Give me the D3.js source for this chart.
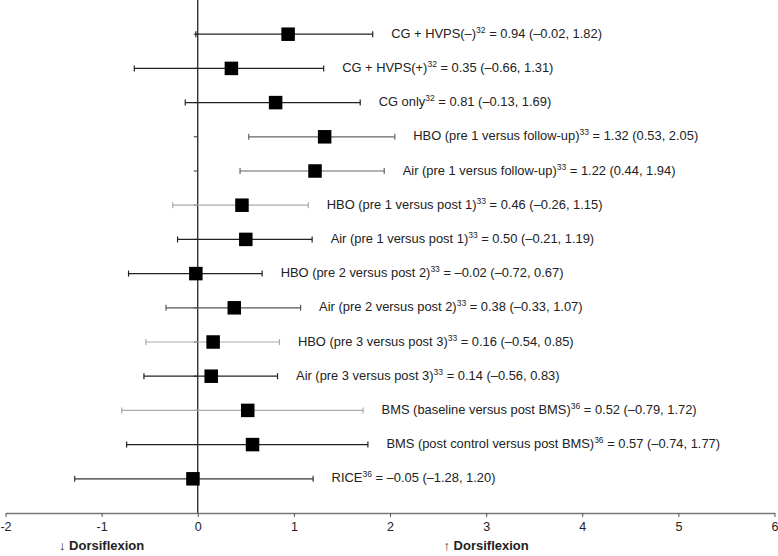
<!DOCTYPE html>
<html>
<head>
<meta charset="utf-8">
<script src="https://cdn.jsdelivr.net/npm/d3@7"></script>
<style>
  html, body { margin: 0; padding: 0; background: #fff; }
  svg { display: block; }
  text { font-family: "Liberation Sans", Arial, sans-serif; }
</style>
</head>
<body>
<div id="chart"></div>
<script>
// ---- data ----
const studies = [
  "CG + HVPS(–)",
  "CG + HVPS(+)",
  "CG only",
  "HBO (pre 1 versus follow-up)",
  "Air (pre 1 versus follow-up)",
  "HBO (pre 1 versus post 1)",
  "Air (pre 1 versus post 1)",
  "HBO (pre 2 versus post 2)",
  "Air (pre 2 versus post 2)",
  "HBO (pre 3 versus post 3)",
  "Air (pre 3 versus post 3)",
  "BMS (baseline versus post BMS)",
  "BMS (post control versus post BMS)",
  "RICE"
];
const refs = ["32","32","32","33","33","33","33","33","33","33","33","36","36","36"];
const estimates = [0.94, 0.35, 0.81, 1.32, 1.22, 0.46, 0.50, -0.02, 0.38, 0.16, 0.14, 0.52, 0.57, -0.05];
const lower =     [-0.02, -0.66, -0.13, 0.53, 0.44, -0.26, -0.21, -0.72, -0.33, -0.54, -0.56, -0.79, -0.74, -1.28];
const upper =     [1.82, 1.31, 1.69, 2.05, 1.94, 1.15, 1.19, 0.67, 1.07, 0.85, 0.83, 1.72, 1.77, 1.20];
const xTicks = [-2, -1, 0, 1, 2, 3, 4, 5, 6];
const bottomLabels = [
  {text: "↓ Dorsiflexion", at: -1.0},
  {text: "↑ Dorsiflexion", at: 3.0}
];

// ---- styles (kept separate from data) ----
const barTones = ["#222","#222","#222","#666","#666","#aaa","#222","#222","#555","#aaa","#222","#aaa","#222","#333"];

const W = 778, H = 556;
const svg = d3.select("#chart").append("svg").attr("width", W).attr("height", H);

const x = d3.scaleLinear().domain([-2, 6]).range([5.5, 774.5]);
const y = d3.scaleLinear().domain([0, studies.length + 1]).range([0, 513]);
const axisY = 513;

const fmt = v => v.toFixed(2).replace("-", "–");

const rows = studies.map((s, i) => ({s, i, ref: refs[i], est: estimates[i], lo: lower[i], hi: upper[i]}));

const g = svg.append("g");

// y axis (zero line) with category ticks
g.append("line")
  .attr("x1", x(0)).attr("x2", x(0))
  .attr("y1", 0).attr("y2", axisY)
  .attr("stroke", "#111").attr("stroke-width", 1.2);
g.selectAll("line.ytick").data(rows).enter().append("line")
  .attr("class", "ytick")
  .attr("x1", x(0) - 4).attr("x2", x(0))
  .attr("y1", d => y(d.i + 1)).attr("y2", d => y(d.i + 1))
  .attr("stroke", "#333").attr("stroke-width", 1);

const bars = g.selectAll("g.row").data(rows).enter().append("g").attr("class", "row");
bars.append("line")
  .attr("x1", d => x(d.lo)).attr("x2", d => x(d.hi))
  .attr("y1", d => y(d.i + 1)).attr("y2", d => y(d.i + 1))
  .attr("stroke", d => barTones[d.i]).attr("stroke-width", 1.2);
bars.append("line")
  .attr("x1", d => x(d.lo)).attr("x2", d => x(d.lo))
  .attr("y1", d => y(d.i + 1) - 3).attr("y2", d => y(d.i + 1) + 3)
  .attr("stroke", d => barTones[d.i]).attr("stroke-width", 1.2);
bars.append("line")
  .attr("x1", d => x(d.hi)).attr("x2", d => x(d.hi))
  .attr("y1", d => y(d.i + 1) - 3).attr("y2", d => y(d.i + 1) + 3)
  .attr("stroke", d => barTones[d.i]).attr("stroke-width", 1.2);

const sq = 13.5;
bars.append("rect")
  .attr("x", d => x(d.est) - sq / 2).attr("y", d => y(d.i + 1) - sq / 2)
  .attr("width", sq).attr("height", sq)
  .attr("fill", "#000");

// labels
const lab = bars.append("text")
  .attr("x", d => x(d.hi) + 18.5)
  .attr("y", d => y(d.i + 1) + 3.5)
  .attr("font-size", "12.9px")
  .attr("fill", "#222");
lab.append("tspan").text(d => d.s);
lab.append("tspan").attr("font-size", "8.5px").attr("dy", -5).text(d => d.ref);
lab.append("tspan").attr("dy", 5).text(d => ` = ${fmt(d.est)} (${fmt(d.lo)}, ${fmt(d.hi)})`);

// x axis
const xAxis = d3.axisBottom(x).tickValues(xTicks).tickSize(4).tickSizeOuter(0).tickFormat(d => String(d));
const ax = svg.append("g").attr("transform", `translate(0,${axisY})`).call(xAxis);
ax.select(".domain").attr("stroke", "#777").attr("stroke-width", 1.4);
ax.selectAll(".tick line").attr("stroke", "#555");
ax.selectAll(".tick text")
  .attr("font-family", "Liberation Sans, Arial, sans-serif")
  .attr("font-size", "12.5px").attr("fill", "#222").attr("dy", "0.95em").attr("y", 6);

// bottom direction labels
svg.selectAll("text.dir").data(bottomLabels).enter().append("text")
  .attr("class", "dir")
  .attr("x", d => x(d.at))
  .attr("y", 550)
  .attr("text-anchor", "middle")
  .attr("font-size", "13px").attr("font-weight", "bold").attr("fill", "#222")
  .text(d => d.text);
</script>
</body>
</html>
